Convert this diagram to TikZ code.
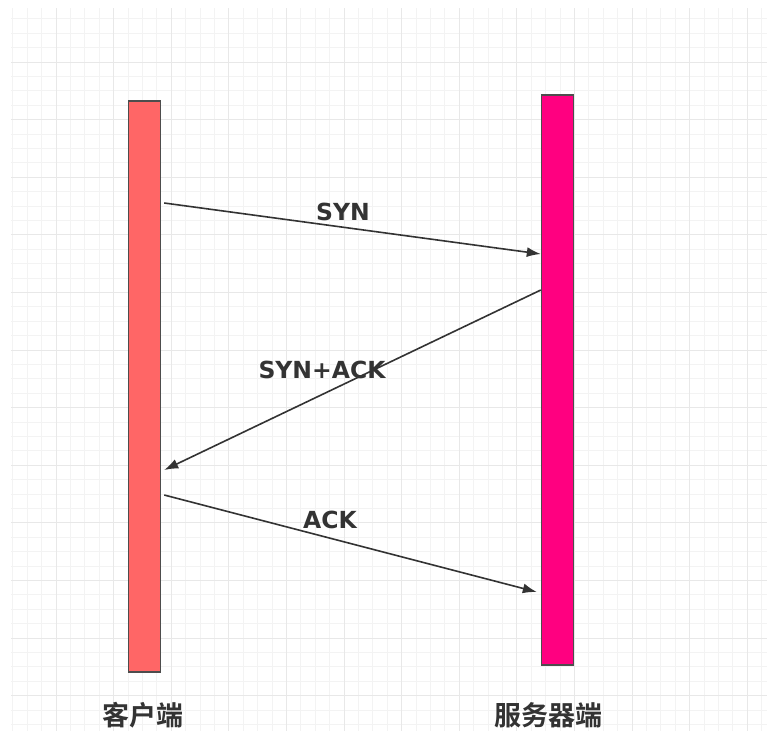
\documentclass[tikz,border=0pt]{standalone}
\usepackage{fontspec}
\setmainfont{Noto Sans CJK SC}[BoldFont={* Bold}]
\newfontfamily\latinlbl{DejaVu Sans}
\usetikzlibrary{arrows.meta}
\definecolor{gridminor}{HTML}{F3F3F3}
\definecolor{gridmajor}{HTML}{E8E8E8}
\definecolor{clientfill}{HTML}{FF6666}
\definecolor{serverfill}{HTML}{FF0080}
\definecolor{barline}{HTML}{4D4D4D}
\definecolor{ink}{HTML}{333333}
\tikzset{
  bar/.style={draw=barline, line width=1.4pt, inner sep=0pt, minimum width=32pt},
  msg/.style={draw=ink, line width=1.6pt, -{Latex[length=14pt,width=10pt]}},
  msglabel/.style={font=\latinlbl\bfseries\fontsize{23.5}{23.5}\selectfont, text=ink},
  sidelabel/.style={font=\bfseries\fontsize{27}{27}\selectfont, text=ink}
}
\begin{document}
\begin{tikzpicture}[x=1pt,y=-1pt]
\useasboundingbox (0,0) rectangle (767,731);
\fill[white] (0,0) rectangle (767,731);
% grid
\foreach \i in {-3,...,49} {
  \pgfmathsetmacro{\gx}{56+14.4*\i}
  \draw[gridminor, line width=0.8pt] (\gx,8) -- (\gx,731);
}
\foreach \j in {-3,...,49} {
  \pgfmathsetmacro{\gy}{62+14.4*\j}
  \draw[gridminor, line width=0.8pt] (11,\gy) -- (767,\gy);
}
\foreach \i in {0,...,12} {
  \pgfmathsetmacro{\gx}{56+57.6*\i}
  \draw[gridmajor, line width=0.9pt] (\gx,8) -- (\gx,731);
}
\foreach \j in {-1,...,12} {
  \pgfmathsetmacro{\gy}{62+57.6*\j}
  \ifdim\gy pt>8pt
  \draw[gridmajor, line width=0.9pt] (11,\gy) -- (767,\gy);
  \fi
}
% bars
\node[bar, fill=clientfill, minimum height=571pt] (client) at (144.5,386.5) {};
\node[bar, fill=serverfill, minimum height=570pt] (server) at (557.5,380) {};
% message end points
\coordinate (c1) at ([xshift=3pt,yshift=183.5pt]client.east);
\coordinate (s1) at ([yshift=126pt]server.west);
\coordinate (s2) at ([yshift=90pt]server.west);
\coordinate (c2) at ([xshift=3pt,yshift=-83.5pt]client.east);
\coordinate (c3) at ([xshift=3pt,yshift=-108.5pt]client.east);
\coordinate (s3) at ([xshift=-4pt,yshift=-212pt]server.west);
\draw[msg] (c1) -- (s1);
\draw[msg] (s2) -- (c2);
\draw[msg] (c3) -- (s3);
% labels
\node[msglabel] (lsyn) at (343,212) {SYN};
\node[msglabel] (lsynack) at (322,370) {SYN+ACK};
\node[msglabel] (lack) at (330,520) {ACK};
\node[sidelabel] (lclient) at (143,715) {客户端};
\node[sidelabel] (lserver) at (548,715) {服务器端};
\end{tikzpicture}
\end{document}
